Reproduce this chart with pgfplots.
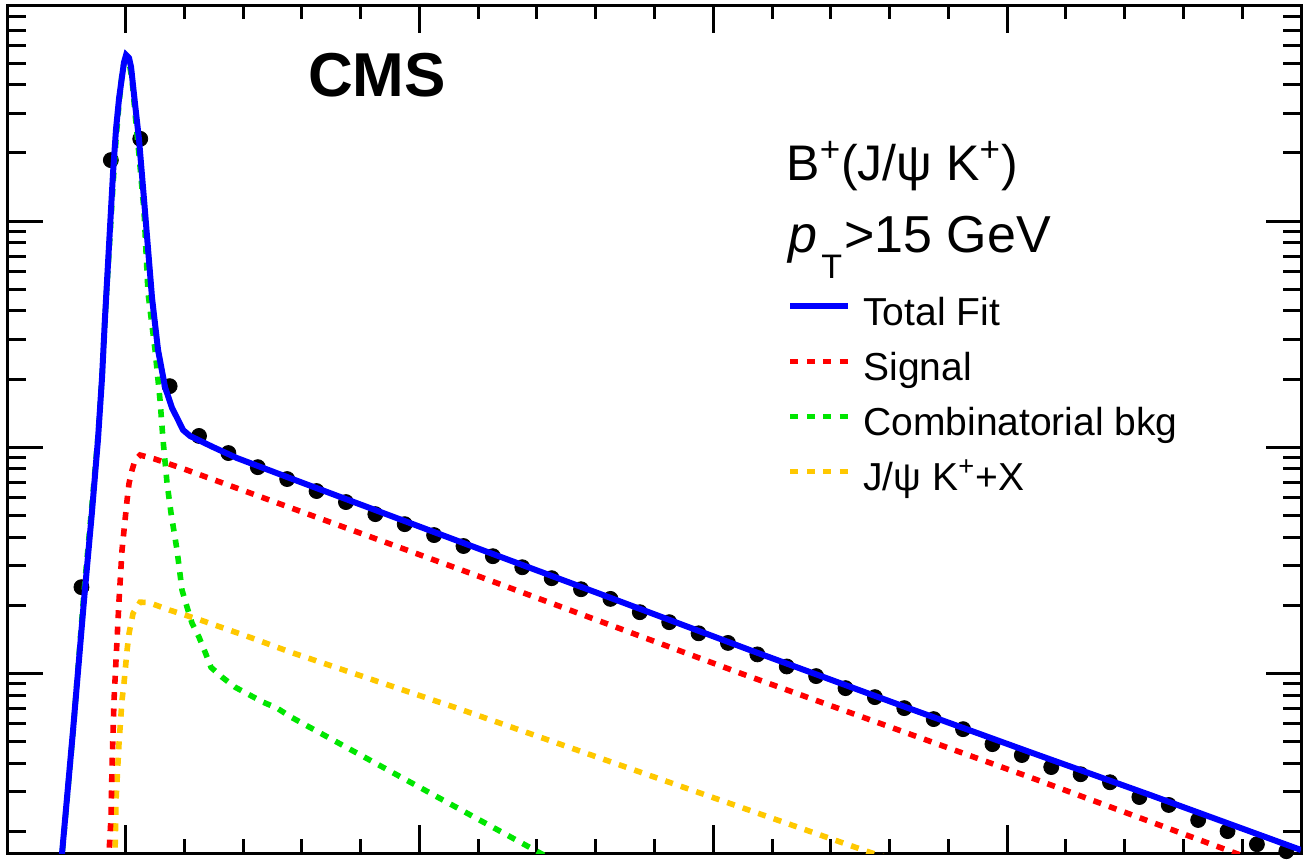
\documentclass[border=0pt]{standalone}
\usepackage{pgfplots}
\pgfplotsset{compat=1.18}
\usepackage{fontspec}
\setmainfont{Liberation Sans}
\definecolor{fitblue}{RGB}{0,0,255}
\definecolor{sigred}{RGB}{255,0,0}
\definecolor{combgreen}{RGB}{0,230,0}
\definecolor{jpsiyellow}{RGB}{255,200,0}
\begin{document}
\begin{tikzpicture}
\useasboundingbox (-4pt,-3pt) rectangle (654pt,426.5pt);
\begin{axis}[
  at={(0,0)}, anchor=south west,
  scale only axis, width=646.5pt, height=424pt,
  xmin=-2, xmax=20,
  ymode=log, ymin=0.16, ymax=903,
  xtick={0,5,...,20}, minor x tick num=4,
  xticklabel=\empty, yticklabel=\empty,
  tick align=inside, tick pos=both,
  axis line style={line width=1.5pt},
  every tick/.style={black, line width=1.5pt},
  xtick style={/pgfplots/major tick length=14pt,/pgfplots/minor tick length=7pt},
  ytick style={/pgfplots/major tick length=17.5pt,/pgfplots/minor tick length=9pt},
  clip mode=individual,
  legend cell align=left,
  legend style={draw=none, fill=none, inner sep=0pt,
    at={(0.6025,0.6568)}, anchor=north west,
    row sep=8.5pt, column sep=6pt,
    nodes={inner sep=0pt, text height=14.5pt, text depth=4.5pt},
    font=\fontsize{19.5}{23}\selectfont},
  legend image code/.code={\draw[#1] (0pt,4.5pt) -- (29pt,4.5pt);},
  dotline/.style={line width=2.8pt, line cap=butt, dash pattern=on 4pt off 4.2pt},
]
% data points
\addplot[only marks, mark=*, mark size=3.75pt, black, forget plot] table {
x v
-0.75 2.40
-0.25 186
0.25 231
0.75 18.6
1.25 11.2
1.75 9.41
2.25 8.15
2.75 7.22
3.25 6.39
3.75 5.71
4.25 5.05
4.75 4.56
5.25 4.08
5.75 3.65
6.25 3.29
6.75 2.94
7.25 2.63
7.75 2.35
8.25 2.13
8.75 1.86
9.25 1.68
9.75 1.50
10.25 1.36
10.75 1.21
11.25 1.07
11.75 0.970
12.25 0.858
12.75 0.783
13.25 0.700
13.75 0.626
14.25 0.565
14.75 0.485
15.25 0.434
15.75 0.384
16.25 0.357
16.75 0.329
17.25 0.283
17.75 0.261
18.25 0.224
18.75 0.200
19.25 0.175
19.75 0.163
};
% J/psi K+ X
\addplot[jpsiyellow, dotline, forget plot] table {
x v
-0.187 0.121
-0.179 0.160
-0.162 0.274
-0.111 0.490
-0.060 0.760
-0.026 0.903
0.026 1.264
0.060 1.50
0.128 1.84
0.247 2.06
0.400 2.05
0.750 1.90
1.268 1.72
2.118 1.44
2.799 1.24
5.640 0.700
12.668 0.161
13.18 0.146
};
% signal
\addplot[sigred, dotline, forget plot] table {
x v
-0.289 0.121
-0.281 0.160
-0.247 0.231
-0.230 0.384
-0.196 0.760
-0.145 1.40
-0.111 2.10
-0.060 3.50
0.026 5.83
0.060 6.93
0.111 7.91
0.162 8.76
0.247 9.22
0.502 8.85
1.012 7.97
1.778 6.75
2.799 5.40
5.862 2.77
10.456 1.00
15.339 0.350
18.878 0.160
19.64 0.134
};
% combinatorial background
\addplot[combgreen, dotline, forget plot] table {
x v
-1.149 0.099
-0.893 0.55
-0.706 2.3
-0.570 5.6
-0.468 11.2
-0.400 20.5
-0.349 37
-0.281 73
-0.213 145
-0.162 230
-0.111 330
-0.060 445
-0.026 500
0.009 520
0.060 505
0.111 420
0.162 300
0.230 195
0.315 110
0.383 48.0
0.502 26.9
0.587 16.1
0.638 10.74
0.706 6.93
0.774 5.10
0.876 3.50
0.961 2.33
1.046 1.96
1.132 1.66
1.251 1.44
1.353 1.24
1.455 1.06
1.642 0.960
1.863 0.867
2.084 0.807
2.340 0.744
2.578 0.700
2.816 0.639
7.052 0.160
7.392 0.143
};
% total fit
\addplot[fitblue, line width=3pt, forget plot] table {
x v
-1.149 0.099
-1.080 0.160
-0.893 0.560
-0.706 2.11
-0.570 5.21
-0.468 10.9
-0.400 20.3
-0.349 37.6
-0.281 78.2
-0.213 163
-0.162 255
-0.111 348
-0.060 436
-0.026 504
0.009 542.5
0.060 526
0.094 480
0.145 361
0.230 228
0.315 124
0.451 45.6
0.553 26.9
0.672 18.4
0.791 14.9
0.893 13.2
0.978 11.9
1.097 11.2
1.489 10.0
1.897 8.94
2.978 7.00
5.521 3.96
8.074 2.24
10.626 1.264
13.178 0.722
15.390 0.447
17.432 0.289
20.0 0.165
};
\addlegendimage{fitblue, line width=3pt}
\addlegendentry{Total Fit}
\addlegendimage{sigred, dotline}
\addlegendentry{Signal}
\addlegendimage{combgreen, dotline}
\addlegendentry{Combinatorial bkg}
\addlegendimage{jpsiyellow, dotline}
\addlegendentry{J/ψ K\textsuperscript{+}+X}
\end{axis}
\node[font=\fontsize{31}{36}\selectfont\bfseries] at (184.5pt,389pt) {CMS};
\node[anchor=base west, inner sep=0pt, font=\fontsize{25}{30}\selectfont]
  at (389pt,336.5pt) {B\textsuperscript{+}(J/ψ K\textsuperscript{+})};
\node[anchor=base west, inner sep=0pt, font=\fontsize{26}{30}\selectfont]
  at (390pt,300.5pt) {\textit{p}\hspace{2pt}\raisebox{-13pt}{\fontsize{17}{20}\selectfont T}\hspace{1pt}>15 GeV};
\end{tikzpicture}
\end{document}
